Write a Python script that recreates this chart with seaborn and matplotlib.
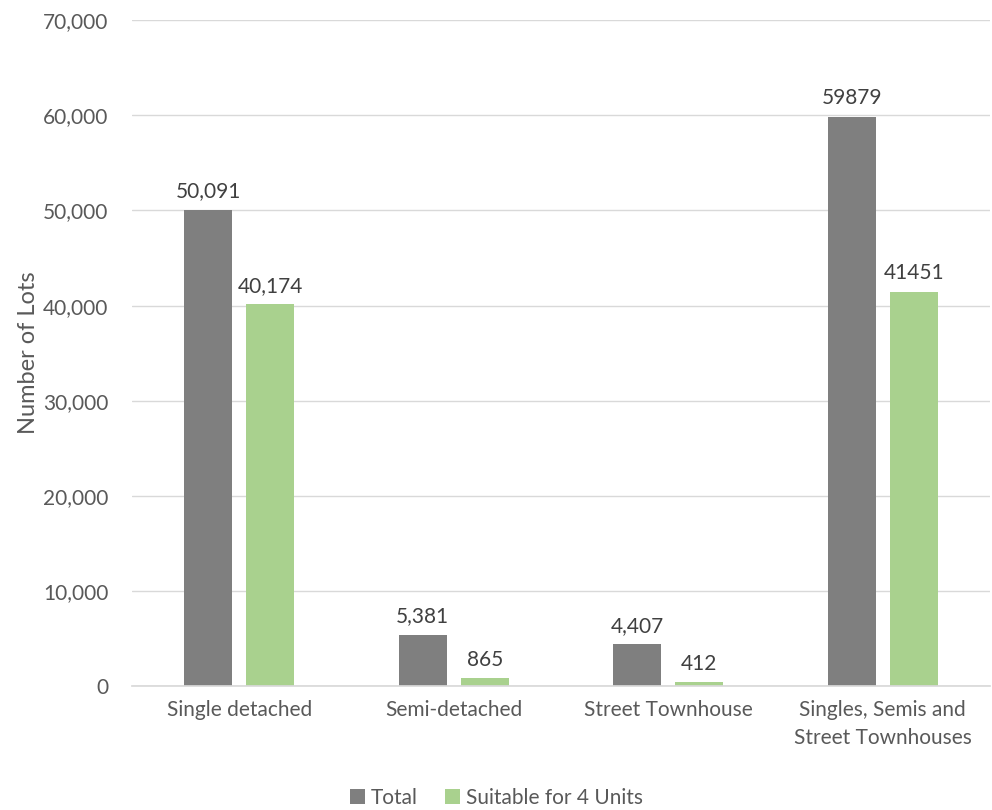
import matplotlib
matplotlib.use("Agg")
import matplotlib.pyplot as plt
import seaborn as sns
import pandas as pd
from matplotlib.ticker import FuncFormatter

categories = ["Single detached", "Semi-detached", "Street Townhouse",
              "Singles, Semis and\nStreet Townhouses"]
total = [50091, 5381, 4407, 59879]
suitable = [40174, 865, 412, 41451]
total_labels = ["50,091", "5,381", "4,407", "59879"]
suitable_labels = ["40,174", "865", "412", "41451"]
series = ["Total", "Suitable for 4 Units"]

df = pd.DataFrame({
    "Category": categories * 2,
    "Series": [series[0]] * 4 + [series[1]] * 4,
    "Value": total + suitable,
})

sns.set_theme(style="white")
plt.rcParams["font.family"] = ["Lato", "DejaVu Sans"]
text_color = "#595959"
fs = 15

fig = plt.figure(figsize=(9.92, 8.10), dpi=100)
ax = fig.add_axes([0.133, 0.153, 0.865, 0.822])

sns.barplot(data=df, x="Category", y="Value", hue="Series",
            palette={"Total": "#7f7f7f", "Suitable for 4 Units": "#a9d18e"},
            width=0.58, gap=0.23, ax=ax, saturation=1, errorbar=None,
            linewidth=0)

ax.set_ylim(0, 70000)
ax.set_xlim(-0.5, 3.5)
ax.set_yticks(range(0, 70001, 10000))
ax.yaxis.set_major_formatter(FuncFormatter(lambda v, p: f"{int(v):,}"))
ax.grid(axis="y", color="#d9d9d9", linewidth=1)
ax.set_axisbelow(True)
for s in ["top", "right", "left"]:
    ax.spines[s].set_visible(False)
ax.spines["bottom"].set_color("#d9d9d9")
ax.tick_params(axis="both", length=0, labelsize=fs, labelcolor=text_color)
ax.tick_params(axis="y", pad=17)
ax.tick_params(axis="x", pad=10)
for lbl in ax.get_xticklabels():
    lbl.set_linespacing(1.5)
ax.set_xlabel("")
ax.set_ylabel("Number of Lots", fontsize=17, color=text_color, labelpad=3)

ax.bar_label(ax.containers[0], labels=total_labels, padding=6,
             fontsize=fs, color="#404040")
ax.bar_label(ax.containers[1], labels=suitable_labels, padding=6,
             fontsize=fs, color="#404040")

leg = ax.legend(loc="center", bbox_to_anchor=(0.425, -0.168), ncol=2,
                frameon=False, fontsize=fs, handlelength=0.7, handleheight=0.7,
                handletextpad=0.3, columnspacing=1.3)
for t in leg.get_texts():
    t.set_color(text_color)

fig.savefig("out.png", dpi=100)
